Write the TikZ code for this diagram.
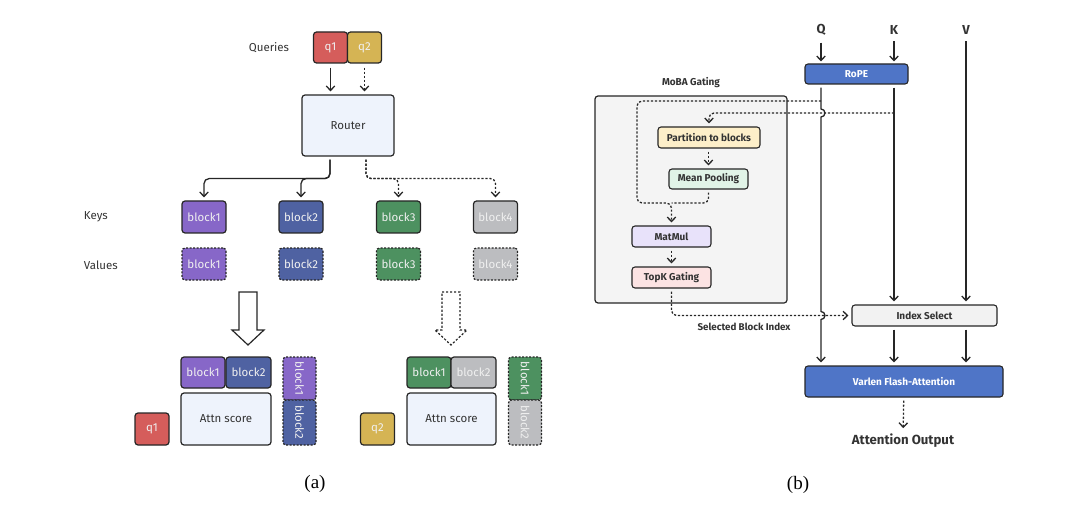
\documentclass[tikz,border=0pt]{standalone}
\usepackage{fontspec}
\setmainfont{Liberation Serif}
\setsansfont{Fira Sans}
\usetikzlibrary{arrows.meta}
\definecolor{qred}{HTML}{D55D5B}
\definecolor{qyel}{HTML}{D5B454}
\definecolor{bpur}{HTML}{8767C8}
\definecolor{bblu}{HTML}{4F62A2}
\definecolor{bgrn}{HTML}{4D9160}
\definecolor{bgry}{HTML}{BCBDC0}
\definecolor{paleblue}{HTML}{EEF3FC}
\definecolor{mobagray}{HTML}{F4F4F4}
\definecolor{partfill}{HTML}{FDEFC9}
\definecolor{meanfill}{HTML}{E1F4E7}
\definecolor{matfill}{HTML}{E8E2FA}
\definecolor{topkfill}{HTML}{FCE3E3}
\definecolor{idxfill}{HTML}{F2F2F2}
\definecolor{ropeblue}{HTML}{4F75C7}
\definecolor{ink}{HTML}{333333}
\begin{document}
\begin{tikzpicture}
[x=1pt,y=-1pt,line width=1.3pt,draw=black!85,%
  >={Straight Barb[length=4.5pt,width=8.5pt]},%
  every node/.style={font=\sffamily\fontsize{11.5}{13}\selectfont,text=ink},%
  box/.style={rectangle,rounded corners=3pt,draw=black!85,line width=1.2pt,inner sep=0pt},%
  blk/.style={box,text=white!94!black,font=\sffamily\fontsize{11.5}{13}\selectfont,minimum width=44pt,minimum height=32pt},%
  vblk/.style={blk,dash pattern=on 2pt off 1.5pt},%
  dsh/.style={dash pattern=on 2.2pt off 1.8pt},%
  tag/.style={box,line width=1.1pt,font=\sffamily\bfseries\fontsize{10}{11}\selectfont,minimum height=21pt},%
  hd/.style={font=\sffamily\bfseries\fontsize{13}{14}\selectfont},%
  captxt/.style={font=\rmfamily\fontsize{19}{20}\selectfont,text=black},%
  hollow/.style={line width=1.2pt,fill=white,line join=miter}]
\useasboundingbox (0,0) rectangle (1080,508);
\node (qry) at (269,48) {Queries};
\node[blk,fill=qred,minimum width=34pt,minimum height=31pt] (q1) at (330.5,47.5) {q1};
\node[blk,fill=qyel,minimum width=34pt,minimum height=31pt] (q2) at (364.5,47.5) {q2};
\node[box,fill=paleblue,minimum width=92pt,minimum height=61pt] (router) at (348,125.5) {Router};
\draw[->,shorten <=4pt,shorten >=3pt] (q1) -- (q1 |- router.north);
\draw[->,dsh,shorten <=4pt,shorten >=3pt] (q2) -- (q2 |- router.north);
\node[anchor=west] (keys) at (80,217) {Keys};
\node[anchor=west] (vals) at (80,265) {Values};
\node[blk,fill=bpur] (k1) at (204,217) {block1};
\node[blk,fill=bblu] (k2) at (301,217) {block2};
\node[blk,fill=bgrn] (k3) at (398.5,217) {block3};
\node[blk,fill=bgry] (k4) at (495.5,217) {block4};
\node[vblk,fill=bpur] (v1) at (204,264) {block1};
\node[vblk,fill=bblu] (v2) at (301,264) {block2};
\node[vblk,fill=bgrn] (v3) at (398.5,264) {block3};
\node[vblk,fill=bgry] (v4) at (495.5,264) {block4};
\coordinate (rsa) at ([xshift=-18pt]router.south);
\coordinate (rsb) at ([xshift=18pt]router.south);
\draw[->,rounded corners=5pt,shorten <=3pt,shorten >=3pt] (rsa) -- ++(0,22) -| (k1);
\draw[->,rounded corners=5pt,shorten <=3pt,shorten >=3pt] (rsa) -- ++(0,22) -| (k2);
\draw[->,dsh,rounded corners=5pt,shorten <=3pt,shorten >=3pt] (rsb) -- ++(0,22) -| (k3);
\draw[->,dsh,rounded corners=5pt,shorten <=3pt,shorten >=3pt] (rsb) -- ++(0,22) -| (k4);
\draw[hollow] (239,292) -- (257,292) -- (257,330) -- (264,330) -- (248,345) -- (232,330) -- (239,330) -- cycle;
\draw[hollow,dsh] (442,292) -- (460,292) -- (460,330) -- (467,330) -- (451,345) -- (435,330) -- (442,330) -- cycle;
\node[box,fill=paleblue,minimum width=90pt,minimum height=52pt] (attnl) at (226,419) {Attn score};
\node[blk,fill=bpur,minimum height=31pt] (lb1) at (203,372.5) {block1};
\node[blk,fill=bblu,minimum width=45pt,minimum height=31pt] (lb2) at (248.5,372.5) {block2};
\node[blk,fill=qred,minimum width=34pt,minimum height=32pt] (q1b) at (152,429) {q1};
\node[vblk,fill=bpur,minimum width=43pt,minimum height=33pt,rotate=-90] (lv1) at (299.5,378.5) {block1};
\node[vblk,fill=bblu,minimum width=45pt,minimum height=33pt,rotate=-90] (lv2) at (299.5,422.5) {block2};
\node[box,fill=paleblue,minimum width=89pt,minimum height=52pt] (attnr) at (451.5,419) {Attn score};
\node[blk,fill=bgrn,minimum height=31pt] (rb1) at (429,372.5) {block1};
\node[blk,fill=bgry,minimum width=45pt,minimum height=31pt] (rb2) at (473.5,372.5) {block2};
\node[blk,fill=qyel,minimum width=34pt,minimum height=32pt] (q2b) at (377.5,429) {q2};
\node[vblk,fill=bgrn,minimum width=43pt,minimum height=33pt,rotate=-90] (rv1) at (525,378.5) {block1};
\node[vblk,fill=bgry,minimum width=45pt,minimum height=33pt,rotate=-90] (rv2) at (525,422.5) {block2};
\node[captxt] (capa) at (315,484) {(a)};
\node[box,fill=mobagray,minimum width=192pt,minimum height=207pt] (moba) at (691,199.5) {};
\node[font=\sffamily\bfseries\fontsize{10}{11}\selectfont] (mobalbl) at (691,83) {MoBA Gating};
\node[hd] (Q) at (821,30) {Q};
\node[hd] (K) at (894,30) {K};
\node[hd] (V) at (966,30) {V};
\node[tag,fill=ropeblue,text=white,minimum width=103pt,minimum height=20pt] (rope) at (856.5,74) {RoPE};
\node[tag,fill=partfill,minimum width=102pt] (part) at (709,137.5) {Partition to blocks};
\node[tag,fill=meanfill,minimum width=79pt,minimum height=20pt] (mean) at (708.5,179) {Mean Pooling};
\node[tag,fill=matfill,minimum width=79pt] (matmul) at (671.5,236.5) {MatMul};
\node[tag,fill=topkfill,minimum width=79pt] (topk) at (671.5,277.5) {TopK Gating};
\node[tag,fill=idxfill,minimum width=145pt] (idx) at (924.5,315.5) {Index Select};
\node[tag,fill=ropeblue,text=white,minimum width=198pt,minimum height=31pt] (varlen) at (904,381.5) {Varlen Flash-Attention};
\node[font=\sffamily\bfseries\fontsize{13.2}{15}\selectfont] (out) at (903,441) {Attention Output};
\node[font=\sffamily\bfseries\fontsize{9.8}{11}\selectfont] (selidx) at (744,327) {Selected Block Index};
\node[captxt] (capb) at (798,485) {(b)};
\coordinate (qa) at (rope.south -| Q);
\coordinate (hop1) at (821,113);
\coordinate (hop2) at (821,315.5);
\coordinate (qd) at (821,101);
\coordinate (kd) at (894,113);
\coordinate (mc) at (637,203);
\coordinate (mj) at (671.5,203);
\draw[->,shorten <=3pt,shorten >=2pt] (Q) -- (Q |- rope.north);
\draw[->,shorten <=3pt,shorten >=2pt] (K) -- (K |- rope.north);
\draw[->,shorten <=3pt,shorten >=3pt] (V) -- (V |- idx.north);
\draw[->,shorten <=3pt,shorten >=3pt] (rope.south -| K) -- (K |- idx.north);
\draw[->,shorten <=3pt,shorten >=3pt] (qa) -- ([yshift=4pt]hop1) arc[start angle=90,end angle=-90,radius=4pt] -- ([yshift=4pt]hop2) arc[start angle=90,end angle=-90,radius=4pt] -- (Q |- varlen.north);
\draw[->,dsh,rounded corners=5pt] (qd) -| (mc) -- (mj) -- ([yshift=3pt]matmul.north);
\draw[dsh,rounded corners=5pt,shorten <=3pt] (mean) |- (mj);
\draw[->,dsh,rounded corners=5pt,shorten >=3pt] (kd) -| (part);
\draw[->,dsh,shorten <=3pt,shorten >=3pt] (part.south -| mean) -- (mean);
\draw[->,dsh,shorten <=3pt,shorten >=3pt] (matmul) -- (topk);
\draw[->,dsh,rounded corners=5pt,shorten <=3pt,shorten >=3pt] (topk) |- (idx);
\draw[->,shorten <=3pt,shorten >=3pt] (idx.south -| K) -- (varlen.north -| K);
\draw[->,shorten <=3pt,shorten >=3pt] (idx.south -| V) -- (varlen.north -| V);
\draw[->,dsh,shorten <=3pt,shorten >=2pt] (varlen) -- (out);
\end{tikzpicture}
\end{document}
